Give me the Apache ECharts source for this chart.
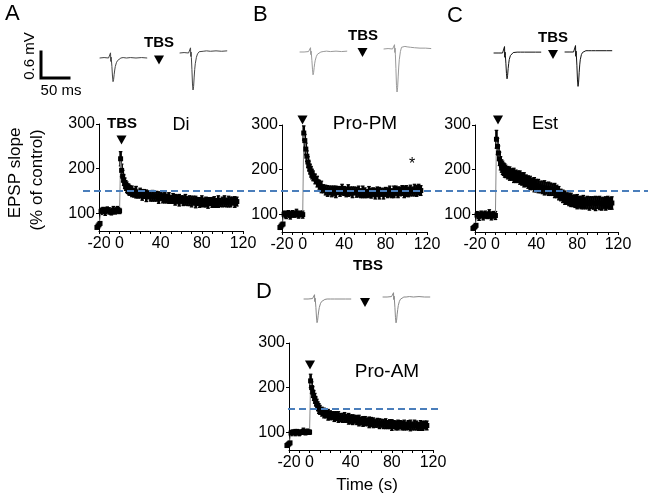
<!DOCTYPE html>
<html><head><meta charset="utf-8">
<script src="https://cdn.jsdelivr.net/npm/echarts@6/dist/echarts.min.js"></script>
<style>html,body{margin:0;padding:0;background:#fff}#c{width:654px;height:501px}</style>
</head><body><div id="c"></div>
<script>
// ---------- DATA ----------
const time = [-22,-21,-20,-19,-18,-16,-14,-12,-10,-8,-6,-4,-2,0,
  1,2,3,4,5,6,7,8,9,10,
  12,14,16,18,20,22,24,26,28,30,32,34,36,38,40,42,44,46,48,50,52,54,56,58,60,62,64,66,68,70,
  72,74,76,78,80,82,84,86,88,90,92,94,96,98,100,102,104,106,108,110,112,114];

const diVals = [68,71,74,77,104,107,103,108,105,102,107,104,108,105,
  222,196,183,174,167,162,158,155,153,151,
  149,146,147,143,145,141,143,139,141,138,
  139,137,138,135,137,134,135,133,134,131,
  133,130,131,129,130,128,130,127,128,126,
  128,125,126,124,127,124,125,123,126,124,
  125,123,126,124,125,127,124,126,125,127,
  125,126];
const diSem = [3,3,3,3,7,6,8,6,7,6,8,6,7,6,
  16,14,13,12,12,11,12,11,12,11,
  12,10,13,9,11,12,10,13,9,11, 12,10,11,13,9,11,12,10,12,9, 11,12,10,13,9,11,12,10,11,12,
  10,13,9,11,12,10,11,12,9,11, 12,10,13,9,11,12,10,12,11,9, 12,10];

const pmVals = [70,73,76,78,100,98,102,97,101,99,103,98,101,99,
  282,265,246,230,217,208,201,195,190,186,
  179,173,166,161,157,154,152,153,151,152,
  150,153,151,155,152,150,153,151,149,152,
  149,151,147,150,148,146,150,147,149,146,
  150,147,149,146,150,148,151,147,150,152,
  149,151,153,150,152,150,153,151,154,152,
  155,153];
const pmSem = [3,3,3,3,7,8,6,8,7,6,8,7,6,8,
  16,14,13,12,12,11,11,12,11,11,
  11,12,10,13,9,11,12,10,12,11, 13,9,11,12,10,11,13,10,12,9, 11,12,10,13,11,9,12,11,10,12,
  11,13,9,12,10,11,12,10,13,11, 12,10,11,13,12,11,12,10,13,12, 12,11];

const estVals = [68,70,72,75,98,95,100,96,99,97,101,95,99,97,
  268,252,237,224,214,208,204,201,198,196,
  193,191,189,187,185,184,182,179,177,175,
  172,170,168,166,164,163,161,160,159,158,
  157,156,155,153,151,147,143,140,137,135,
  133,132,130,129,128,127,126,127,125,126,
  124,126,125,124,126,125,123,125,124,126,
  124,125];
const estSem = [3,3,3,3,8,9,7,9,8,7,9,8,7,9,
  20,18,16,15,15,14,15,14,15,14,
  14,15,13,16,14,13,15,14,16,13, 14,15,13,16,14,15,13,14,16,13, 15,14,13,16,14,15,13,14,15,13,
  14,15,13,14,16,13,14,15,13,14, 15,13,14,16,13,15,14,13,15,14, 13,14];

const amVals = [70,72,74,76,98,100,99,101,98,100,102,99,101,100,
  215,200,190,182,176,169,163,158,153,150,
  146,143,141,139,138,137,135,136,134,133,
  132,133,131,130,129,128,129,127,126,125,
  124,125,123,122,123,121,120,121,119,120,
  118,119,117,118,116,117,115,116,117,115,
  116,114,116,115,114,116,115,113,115,114,
  116,115];
const amSem = [3,3,3,3,6,5,7,5,6,5,7,5,6,5,
  15,13,12,11,11,10,11,10,11,10,
  10,11,9,12,10,9,11,10,12,9, 10,11,9,12,10,11,9,10,12,9, 11,10,9,12,10,11,9,10,11,9,
  10,11,9,10,12,9,10,11,9,10, 11,9,10,12,9,11,10,9,11,10, 9,10];

const yTickValues = [100, 200, 300];
const xLabelValues = [-20, 0, 40, 80, 120];
const xTickValues = [-20,-10,0,10,20,30,40,50,60,70,80,90,100,110,120];
const ltpLevel = 150;

const traceTime = [0,8,16,19,19.5,20,20.5,21,22,23,24,25,26,27,28,30,32,35,38,42,48,55,65,75,85];
const traceDi1  = [0,0.01,0,0.01,0.12,-0.08,0.02,-0.04,-0.2,-0.42,-0.55,-0.5,-0.38,-0.28,-0.2,-0.11,-0.06,-0.02,0,0.01,0,0.01,0,0.01,0];
const traceDi2  = [0,0.01,0,0.01,0.12,-0.08,0.02,-0.1,-0.38,-0.72,-0.86,-0.78,-0.56,-0.38,-0.25,-0.1,-0.02,0.03,0.05,0.04,0.05,0.04,0.05,0.04,0.05];
const tracePm1  = [0,0,0.01,0,0.1,-0.06,0.02,-0.04,-0.2,-0.4,-0.53,-0.48,-0.36,-0.26,-0.19,-0.1,-0.05,-0.02,0,0.01,0.02,0.01,0.02,0.01,0.02];
const tracePm2  = [0,0.01,0,0,0.1,-0.08,0.02,-0.12,-0.45,-0.85,-1.0,-0.9,-0.65,-0.42,-0.25,-0.06,0.04,0.07,0.06,0.05,0.04,0.03,0.02,0.02,0.01];
const traceEst1 = [0,0,0,0.01,0.15,-0.1,0.02,-0.06,-0.25,-0.48,-0.6,-0.52,-0.36,-0.24,-0.15,-0.06,-0.02,0.01,0.02,0.02,0.02,0.02,0.02,0.02,0.02];
const traceEst2 = [0,0,0,0.01,0.15,-0.1,0.02,-0.08,-0.32,-0.65,-0.8,-0.7,-0.48,-0.3,-0.18,-0.06,-0.01,0.02,0.03,0.03,0.03,0.03,0.03,0.03,0.03];
const traceAm1  = [0,0,0.01,0,0.1,-0.06,0.02,-0.04,-0.2,-0.42,-0.55,-0.5,-0.38,-0.28,-0.2,-0.11,-0.06,-0.03,-0.01,0,0,0,0,0,0];
const traceAm2  = [0,0,0.01,0,0.1,-0.06,0.02,-0.05,-0.24,-0.48,-0.6,-0.54,-0.4,-0.29,-0.2,-0.1,-0.05,-0.02,0,0,0.01,0,0.01,0,0];

const scaleBarMs = [0, 0, 50];
const scaleBarMv = [0.6, 0, 0];

// ---------- LAYOUT ----------
const FONT = '"Liberation Sans", Arial, sans-serif';
const panels = [
  {vals: diVals,  sem: diSem,  left: 99,  top: 124, width: 144},
  {vals: pmVals,  sem: pmSem,  left: 282, top: 125, width: 145},
  {vals: estVals, sem: estSem, left: 475, top: 125, width: 143},
  {vals: amVals,  sem: amSem,  left: 289, top: 343, width: 144}
];
const PH = 107;
const traces = [
  {v: traceDi1,  left: 99.6,  base: 58,  color: '#444'},
  {v: traceDi2,  left: 179.6, base: 53,  color: '#444'},
  {v: tracePm1,  left: 299.6, base: 52,  color: '#999'},
  {v: tracePm2,  left: 383.6, base: 49,  color: '#999'},
  {v: traceEst1, left: 493.6, base: 53,  color: '#111'},
  {v: traceEst2, left: 564.6, base: 52,  color: '#111'},
  {v: traceAm1,  left: 303.6, base: 299, color: '#888'},
  {v: traceAm2,  left: 382.6, base: 297, color: '#888'}
];

const grid = [], xAxis = [], yAxis = [], series = [];
let gi = 0;

panels.forEach(p => {
  grid.push({left: p.left, top: p.top, width: p.width, height: PH});
  xAxis.push({type: 'value', gridIndex: gi, min: -20, max: 120,
    axisLine: {onZero: false, lineStyle: {color: '#000', width: 1}},
    axisTick: {customValues: xTickValues, length: 3, lineStyle: {color: '#000'}},
    axisLabel: {customValues: xLabelValues, fontSize: 16, color: '#000', margin: 5, fontFamily: FONT},
    splitLine: {show: false}});
  yAxis.push({type: 'value', gridIndex: gi, min: 60, max: 300,
    axisLine: {show: true, onZero: false, lineStyle: {color: '#000', width: 1}},
    axisTick: {show: true, customValues: yTickValues, length: 3, lineStyle: {color: '#000'}},
    axisLabel: {customValues: yTickValues, fontSize: 16, color: '#000', margin: 4, fontFamily: FONT},
    splitLine: {show: false}});
  series.push({type: 'custom', xAxisIndex: gi, yAxisIndex: gi, clip: false, z: 2, silent: true,
    data: time.map((t, k) => [t, p.vals[k] - p.sem[k], p.vals[k] + p.sem[k]]),
    encode: {x: 0, y: [1, 2]},
    renderItem: (params, api) => {
      const x = api.value(0);
      const lo = api.coord([x, api.value(1)]);
      const hi = api.coord([x, api.value(2)]);
      const st = {stroke: '#000', lineWidth: 1.2};
      return {type: 'group', children: [
        {type: 'line', shape: {x1: lo[0], y1: lo[1], x2: hi[0], y2: hi[1]}, style: {stroke: '#000', lineWidth: 2.6}},
        {type: 'line', shape: {x1: lo[0] - 1.8, y1: lo[1], x2: lo[0] + 1.8, y2: lo[1]}, style: st},
        {type: 'line', shape: {x1: hi[0] - 1.8, y1: hi[1], x2: hi[0] + 1.8, y2: hi[1]}, style: st}
      ]};
    }});
  series.push({type: 'line', xAxisIndex: gi, yAxisIndex: gi, clip: false, z: 3, silent: true,
    data: time.map((t, k) => [t, p.vals[k]]),
    symbol: 'rect', symbolSize: 5, showAllSymbol: true,
    itemStyle: {color: '#000'}, lineStyle: {color: '#888', width: 1}});
  gi++;
});

// dashed reference lines (150 %)
[{left: 83, width: 565, top: 124}, {left: 288, width: 154, top: 342}].forEach(d => {
  grid.push({left: d.left, top: d.top, width: d.width, height: PH});
  xAxis.push({type: 'value', gridIndex: gi, min: 0, max: 1, show: false});
  yAxis.push({type: 'value', gridIndex: gi, min: 60, max: 300, show: false});
  series.push({type: 'line', xAxisIndex: gi, yAxisIndex: gi, symbol: 'none', z: 5, silent: true,
    data: [[0, ltpLevel], [1, ltpLevel]],
    lineStyle: {color: '#4a7ebb', width: 2, type: [7, 4]}});
  gi++;
});

// EPSP traces (ms, mV): 0.56 px/ms, 43 px/mV
traces.forEach(tr => {
  grid.push({left: tr.left, top: tr.base - 0.2 * 43, width: 56, height: 1.4 * 43});
  xAxis.push({type: 'value', gridIndex: gi, min: 0, max: 100, show: false});
  yAxis.push({type: 'value', gridIndex: gi, min: -1.2, max: 0.2, show: false});
  series.push({type: 'line', xAxisIndex: gi, yAxisIndex: gi, symbol: 'none', silent: true, clip: false,
    data: traceTime.map((t, k) => [t, tr.v[k]]),
    lineStyle: {color: tr.color, width: 1}});
  gi++;
});

// scale bar
grid.push({left: 41, top: 52, width: 28, height: 26});
xAxis.push({type: 'value', gridIndex: gi, min: 0, max: 50, show: false});
yAxis.push({type: 'value', gridIndex: gi, min: 0, max: 0.6, show: false});
series.push({type: 'line', xAxisIndex: gi, yAxisIndex: gi, symbol: 'none', silent: true, clip: false,
  data: scaleBarMs.map((t, k) => [t, scaleBarMv[k]]),
  lineStyle: {color: '#000', width: 3, join: 'miter', cap: 'square'}});
gi++;

// ---------- ANNOTATIONS ----------
function txt(text, x, y, size, opts = {}) {
  return Object.assign({type: 'text', x: x, y: y, silent: true,
    style: {text: text, fontSize: size, fontFamily: FONT, fontWeight: opts.bold ? 'bold' : 'normal',
      fill: '#000', align: opts.align || 'center', verticalAlign: 'middle',
      textAlign: opts.align || 'center', textVerticalAlign: 'middle'}},
    opts.rot ? {rotation: opts.rot} : {});
}
function tri(cx, cy) {
  return {type: 'polygon', silent: true,
    shape: {points: [[cx - 5, cy - 4.5], [cx + 5, cy - 4.5], [cx, cy + 4.5]]},
    style: {fill: '#000'}};
}
const graphic = [
  txt('A', 5, 14, 22, {align: 'left'}),
  txt('B', 253, 15, 22, {align: 'left'}),
  txt('C', 447, 16, 22, {align: 'left'}),
  txt('D', 256, 292, 22, {align: 'left'}),
  txt('0.6 mV', 30, 56, 15, {rot: Math.PI / 2}),
  txt('50 ms', 61, 91, 15),
  txt('TBS', 159, 43, 15, {bold: true}),
  txt('TBS', 363, 36, 15, {bold: true}),
  txt('TBS', 553, 38, 15, {bold: true}),
  txt('TBS', 122, 124, 15, {bold: true}),
  txt('TBS', 368, 266, 15, {bold: true}),
  txt('Di', 181, 125, 18),
  txt('Pro-PM', 365, 124, 19),
  txt('Est', 545, 124, 18),
  txt('Pro-AM', 387, 372, 19),
  txt('*', 412, 165, 16),
  txt('EPSP slope', 15, 173, 17, {rot: Math.PI / 2}),
  txt('(% of control)', 37, 180, 17, {rot: Math.PI / 2}),
  txt('Time (s)', 367, 485, 17),
  tri(159, 60), tri(121.5, 140), tri(362.5, 52.5), tri(302.5, 120),
  tri(553, 54.5), tri(498, 120), tri(365, 302.5), tri(310, 365)
];

const chart = echarts.init(document.getElementById('c'), null, {renderer: 'canvas'});
chart.setOption({animation: false, backgroundColor: '#fff', grid, xAxis, yAxis, series, graphic});
</script>
</body></html>
